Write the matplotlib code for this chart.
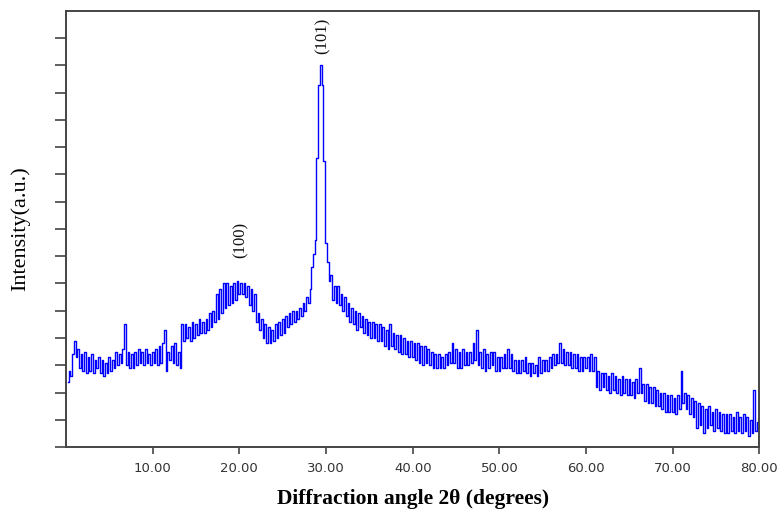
import matplotlib.pyplot as plt
import numpy as np

# scan grid (2theta, degrees, 0.2 deg step) and intensity (a.u.)
angle = np.arange(0.2, 80.01, 0.2)
intensity = [
    2.4, 2.8, 2.6, 3.4, 3.9, 3.3, 3.6, 2.9, 3.4, 2.8, 3.5, 2.7, 3.3, 2.8, 3.4, 2.7, 3.2, 2.9, 3.3, 2.7,
    3.2, 2.6, 3.1, 2.7, 3.3, 2.8, 3.2, 2.9, 3.5, 3.0, 3.4, 3.1, 3.6, 4.5, 3.0, 3.5, 2.9, 3.4, 2.9, 3.5,
    3.0, 3.6, 3.1, 3.5, 3.0, 3.6, 3.1, 3.4, 3.0, 3.5, 3.1, 3.6, 3.0, 3.7, 3.1, 3.8, 4.3, 2.8, 3.5, 3.2,
    3.7, 3.1, 3.8, 3.0, 3.5, 2.9, 4.5, 3.9, 4.5, 4.0, 4.4, 3.9, 4.6, 4.0, 4.5, 4.1, 4.7, 4.2, 4.6, 4.2,
    4.7, 4.3, 4.9, 4.4, 5.0, 4.6, 5.6, 4.7, 5.8, 4.9, 6.0, 5.1, 6.0, 5.2, 5.9, 5.3, 6.0, 5.4, 6.1, 5.6,
    6.0, 5.6, 6.0, 5.5, 5.9, 5.2, 5.8, 5.0, 5.6, 4.6, 4.9, 4.3, 4.7, 4.0, 4.5, 3.8, 4.4, 3.8, 4.3, 3.9,
    4.5, 4.0, 4.6, 4.1, 4.7, 4.2, 4.8, 4.4, 4.9, 4.5, 5.0, 4.6, 5.0, 4.7, 5.1, 4.8, 5.3, 5.0, 5.5, 5.3,
    5.8, 6.6, 7.1, 7.6, 10.6, 13.3, 14.0, 13.3, 10.5, 7.5, 6.8, 6.1, 6.3, 5.4, 5.9, 5.3, 5.9, 5.2, 5.6, 5.0,
    5.5, 4.8, 5.3, 4.6, 5.1, 4.5, 5.0, 4.3, 4.9, 4.4, 4.8, 4.2, 4.7, 4.1, 4.6, 4.0, 4.6, 4.0, 4.5, 3.9,
    4.5, 3.9, 4.4, 3.7, 4.3, 3.6, 4.5, 3.7, 4.2, 3.6, 4.1, 3.5, 4.1, 3.4, 4.0, 3.4, 3.9, 3.3, 3.9, 3.3,
    3.8, 3.2, 3.8, 3.1, 3.7, 3.0, 3.7, 3.1, 3.6, 3.0, 3.5, 2.9, 3.4, 2.9, 3.4, 2.9, 3.3, 2.9, 3.4, 3.0,
    3.5, 3.1, 3.8, 3.1, 3.6, 2.9, 3.5, 2.9, 3.6, 3.0, 3.5, 3.0, 3.5, 3.1, 3.8, 3.2, 4.3, 3.0, 3.5, 2.9,
    3.6, 2.8, 3.4, 2.9, 3.5, 3.0, 3.5, 2.8, 3.3, 2.8, 3.3, 2.9, 3.4, 2.9, 3.6, 2.9, 3.4, 2.8, 3.2, 2.7,
    3.2, 2.7, 3.2, 2.8, 3.3, 2.7, 3.1, 2.6, 3.1, 2.7, 3.0, 2.6, 3.3, 2.7, 3.2, 2.8, 3.2, 2.8, 3.3, 2.9,
    3.4, 3.0, 3.4, 3.1, 3.8, 3.1, 3.6, 3.0, 3.5, 3.0, 3.5, 2.9, 3.4, 2.9, 3.4, 2.8, 3.3, 2.8, 3.3, 2.9,
    3.3, 2.8, 3.4, 2.8, 3.3, 2.2, 2.8, 2.1, 2.7, 2.2, 2.7, 2.1, 2.6, 2.0, 2.7, 2.1, 2.6, 2.0, 2.5, 1.9,
    2.6, 2.0, 2.5, 1.9, 2.5, 1.9, 2.4, 1.8, 2.5, 2.0, 2.9, 2.0, 2.3, 1.7, 2.3, 1.6, 2.2, 1.6, 2.2, 1.5,
    2.1, 1.5, 2.0, 1.4, 2.0, 1.3, 1.9, 1.3, 1.9, 1.3, 1.8, 1.2, 1.9, 1.4, 2.8, 1.6, 2.0, 1.4, 1.9, 1.2,
    1.8, 1.1, 1.7, 0.7, 1.6, 0.8, 1.5, 0.5, 1.4, 0.7, 1.5, 0.8, 1.3, 0.6, 1.4, 0.7, 1.3, 0.6, 1.2, 0.5,
    1.2, 0.5, 1.2, 0.6, 1.1, 0.5, 1.3, 0.6, 1.1, 0.5, 1.2, 0.6, 1.1, 0.4, 1.0, 0.5, 2.1, 0.6, 0.9, 0.1,
]

xticks = [10, 20, 30, 40, 50, 60, 70, 80]
xticklabels = ["10.00", "20.00", "30.00", "40.00", "50.00", "60.00", "70.00", "80.00"]
peaks = [(20.1, 7.6, "(100)"), (29.6, 15.1, "(101)")]

fig = plt.figure(figsize=(7.8, 5.21), dpi=100)
ax = fig.add_axes([0.0846, 0.142, 0.889, 0.837])

ax.plot(angle, intensity, color="#0000ff", lw=1.0, drawstyle="steps-mid")

for x, y, lab in peaks:
    ax.text(x, y, lab, rotation=90, ha="center", va="center",
            family="Liberation Serif", fontsize=12, color="#111111")

ax.set_xlim(0, 80)
ax.set_ylim(0, 16)
ax.set_xticks(xticks)
ax.set_xticklabels(xticklabels, fontsize=9.5, color="#333333", family="DejaVu Sans")
ax.set_yticks(range(0, 16))
ax.set_yticklabels([])
ax.tick_params(axis="x", direction="out", length=5, width=1.2, color="#444444", pad=6)
ax.tick_params(axis="y", direction="out", length=8, width=1.2, color="#444444")
for s in ax.spines.values():
    s.set_color("#444444")
    s.set_linewidth(1.4)

ax.set_xlabel("Diffraction angle 2\u03b8 (degrees)", family="Liberation Serif",
              fontsize=15.5, fontweight="bold", labelpad=10)
ax.set_ylabel("Intensity(a.u.)", family="Liberation Serif", fontsize=16, labelpad=14)

fig.savefig("out.png", dpi=100)
